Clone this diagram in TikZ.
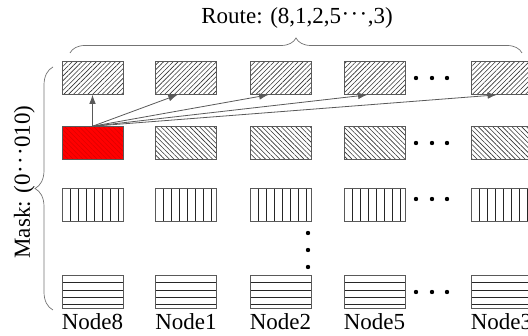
\documentclass[tikz,border=0pt]{standalone}
\usepackage{fontspec}
\setmainfont{Liberation Serif}
\usetikzlibrary{arrows.meta,calc,patterns.meta,decorations.pathreplacing}
\newcommand{\middots}{\raisebox{2pt}{\kern0.5pt·\kern1.3pt·\kern1.3pt·\kern0.5pt}}

\begin{document}
\begin{tikzpicture}[x=1pt,y=-1pt,
  cell/.style={draw=black!65,line width=0.8pt,minimum width=61pt,minimum height=33pt,inner sep=0pt},
  slashcell/.style={cell,pattern={Lines[angle=45,distance=3.4pt,line width=0.6pt]},pattern color=black!80},
  backcell/.style={cell,pattern={Lines[angle=-45,distance=3.4pt,line width=0.6pt]},pattern color=black!80},
  vertcell/.style={cell,path picture={
      \foreach \d in {8,16,...,56}
        \draw[black!85,line width=0.7pt] ($(path picture bounding box.north west)+(\d,0)$) -- ++(0,33);}},
  horzcell/.style={cell,path picture={
      \foreach \d in {7,14.5,22,29}
        \draw[black!85,line width=0.7pt] ($(path picture bounding box.north west)+(0,\d)$) -- ++(61,0);}},
  redcell/.style={cell,preaction={fill=red},pattern={Lines[angle=-45,distance=3.4pt,line width=0.5pt]},pattern color=red!85!black},
  txt/.style={font=\fontsize{23}{27}\selectfont,inner sep=0pt,anchor=base},
  hop/.style={-{Latex[length=9pt,width=6.5pt]},draw=black!65,line width=0.8pt},
  brc/.style={draw=black!55,line width=0.7pt,decorate},
  dot/.style={black}]
  \clip (0,0) rectangle (528,336);
  % grid of cells
  \foreach \x/\c in {92.5/1,186/2,280.5/3,374.5/4,501.5/5}{
    \node[slashcell] (t\c) at (\x,78) {};
    \node[vertcell] (v\c) at (\x,204.5) {};
    \node[horzcell] (h\c) at (\x,292) {};
  }
  \node[redcell] (m1) at (92.5,143) {};
  \foreach \x/\c in {186/2,280.5/3,374.5/4,501.5/5}
    \node[backcell] (m\c) at (\x,143) {};
  % node labels
  \foreach \c/\n in {1/8,2/1,3/2,4/5,5/3}
    \node[txt] (n\n) at ($(h\c.center)+(0,38)$) {Node\n};
  % route arrows
  \draw[hop] (m1.north) -- (t1.south);
  \draw[hop] (m1.north) -- ($(t2.south west)!0.36!(t2.south east)$);
  \draw[hop] (m1.north) -- ($(t3.south west)!0.3!(t3.south east)$);
  \draw[hop] (m1.north) -- ($(t4.south west)!0.38!(t4.south east)$);
  \draw[hop] (m1.north) -- ($(t5.south west)!0.42!(t5.south east)$);
  % dots
  \foreach \y in {78,143,199,292}
    \foreach \x in {416,432,447}
      \fill[dot] (\x,\y) circle (2.2pt);
  \foreach \y in {233,250,267}
    \fill[dot] (308,\y) circle (2.2pt);
  % braces
  \draw[brc,decoration={brace,amplitude=15pt}] (70,53) -- (522,53);
  \draw[brc,decoration={brace,amplitude=18pt}] (53,310) -- (53,67);
  \node[txt] (route) at (297,24) {Route: (8,1,2,5\middots,3)};
  \node[txt,rotate=90] (mask) at (30,182) {Mask: (0\middots010)};
\end{tikzpicture}
\end{document}
